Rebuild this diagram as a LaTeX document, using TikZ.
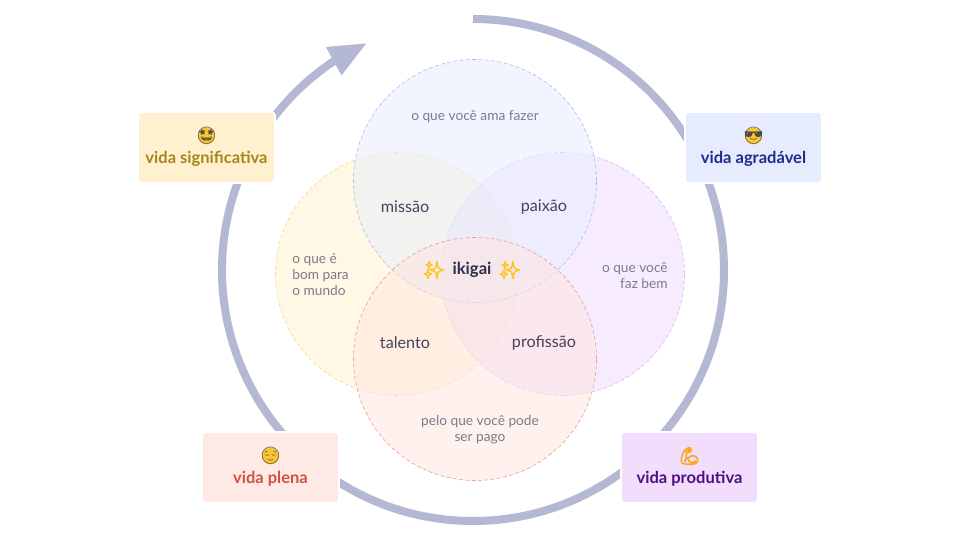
\documentclass[tikz,border=0pt]{standalone}
\usepackage{fontspec}
\usepackage{xcolor}
\setmainfont{Lato}
\newfontfamily\emojifont{Noto Emoji}
\newfontfamily\emojifat[FakeBold=5]{Noto Emoji}
\usetikzlibrary{arrows.meta, positioning, calc}
\definecolor{ringcol}{HTML}{B5B8D3}
\definecolor{softtxt}{HTML}{7B7B8E}
\definecolor{midtxt}{HTML}{45445C}
\definecolor{darktxt}{HTML}{2F2D4A}
\definecolor{amacol}{HTML}{E7EDFF}
\definecolor{mundocol}{HTML}{FFF3CB}
\definecolor{bemcol}{HTML}{F1DBFF}
\definecolor{pagocol}{HTML}{FFE5DF}
\definecolor{amaline}{HTML}{B4BCE2}
\definecolor{mundoline}{HTML}{F2DC9A}
\definecolor{bemline}{HTML}{DDBBF2}
\definecolor{pagoline}{HTML}{E8A094}
\definecolor{sigbg}{HTML}{FFF1CF}
\definecolor{sigfg}{HTML}{A8851B}
\definecolor{agrbg}{HTML}{E6ECFD}
\definecolor{agrfg}{HTML}{1D2B8E}
\definecolor{plebg}{HTML}{FFE9E5}
\definecolor{plefg}{HTML}{CF5140}
\definecolor{probg}{HTML}{F2DDFD}
\definecolor{profg}{HTML}{4B0F85}
\definecolor{emojiyel}{HTML}{FBC62F}
\definecolor{emojiorg}{HTML}{F9A81C}

\begin{document}
\begin{tikzpicture}[
    petal/.style={circle, minimum size=4.86cm, inner sep=0pt,
      dash pattern=on 2.2pt off 1.4pt, line width=0.35pt, fill opacity=0.5, draw opacity=1},
    box/.style={rounded corners=2pt, minimum width=2.74cm, minimum height=1.42cm,
      inner sep=0pt, draw=white, line width=1pt},
    lab/.style={font=\bfseries\fontsize{9.4}{10}\selectfont, inner sep=0pt},
    emo/.style={font=\emojifont\fontsize{9.6}{10}\selectfont, inner sep=0pt, text=black!70},
    fat/.style={font=\emojifat\fontsize{9.6}{10}\selectfont, inner sep=0pt},
    face/.style={circle, fill=emojiyel, minimum size=0.34cm, inner sep=0pt},
    soft/.style={font=\fontsize{7.8}{9.1}\selectfont, text=softtxt, inner sep=0pt},
    inter/.style={font=\fontsize{9.2}{10}\selectfont, text=midtxt, inner sep=0pt},
    ring/.style={line width=0.16cm, ringcol, -{Triangle[length=0.76cm, width=0.6cm]}}]
  \useasboundingbox (0,0) rectangle (19.2,10.8);
  \fill[white] (0,0) rectangle (19.2,10.8);
  % big ring
  \coordinate (ringstart) at (9.46,10.42);
  \coordinate (ringtip) at (7.34,9.94);
  \draw[ring] (ringstart) arc[start angle=90, end angle=-236.3, radius=5.02] -- (ringtip);
  % four circles
  \node[petal, fill=mundocol, draw=mundoline] (mundo) at (7.94,5.32) {};
  \node[petal, fill=bemcol, draw=bemline] (bem) at (11.26,5.32) {};
  \node[petal, fill=amacol, draw=amaline] (ama) at (9.5,7.18) {};
  \node[petal, fill=pagocol, draw=pagoline] (pago) at (9.5,3.62) {};
  % texts of the circles
  \node[soft] (tama) at (9.5,8.46) {o que você ama fazer};
  \node[soft, align=left, anchor=west] (tmundo) at (5.84,5.3) {o que é\\bom para\\o mundo};
  \node[soft, align=right, anchor=east] (tbem) at (13.36,5.28) {o que você\\faz bem};
  \node[soft, align=center] (tpago) at (9.6,2.2) {pelo que você pode\\ser pago};
  % overlaps
  \node[inter] (missao) at (8.1,6.66) {missão};
  \node[inter] (paixao) at (10.88,6.66) {paixão};
  \node[inter] (talento) at (8.1,3.94) {talento};
  \node[inter] (profissao) at (10.88,3.94) {profissão};
  % centre
  \node[inter, font=\bfseries\fontsize{9.5}{10}\selectfont, text=darktxt] (ikigai) at (9.44,5.4) {ikigai};
  \node[fat, text=emojiyel] (spa) at (8.68,5.4) {✨};
  \node[fat, text=emojiyel] (spb) at (10.2,5.4) {✨};
  % boxes
  \foreach \n/\x/\y/\c/\t in {sig/4.13/7.85/sig/vida significativa,
      agr/15.07/7.85/agr/vida agradável,
      ple/5.41/1.45/ple/vida plena,
      pro/13.79/1.45/pro/vida produtiva} {
    \node[box, fill=\c bg] (\n) at (\x,\y) {};
    \node[lab, text=\c fg] (l\n) at ($(\n.center)+(0,-0.22)$) {\t};
  }
  \node[face] (fsig) at ($(sig.center)+(0,0.23)$) {};
  \node[emo] at (fsig) {🤩};
  \node[face] (fagr) at ($(agr.center)+(0,0.23)$) {};
  \node[emo] at (fagr) {😎};
  \node[face] (fple) at ($(ple.center)+(0,0.23)$) {};
  \node[emo] at (fple) {😌};
  \node[fat, text=emojiorg] (fpro) at ($(pro.center)+(0,0.23)$) {💪};
\end{tikzpicture}
\end{document}
